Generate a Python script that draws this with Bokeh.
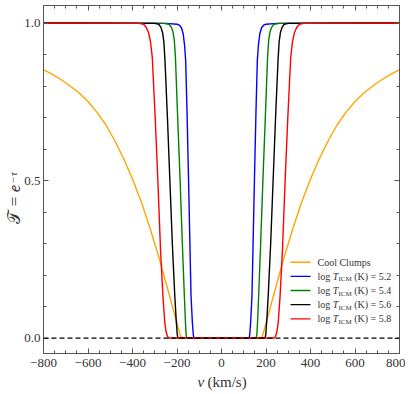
from bokeh.plotting import figure
from bokeh.models import (Range1d, LinearAxis, Label, FixedTicker, Title,
                          CustomJSTickFormatter, Span)
from bokeh.embed import file_html
from bokeh.resources import INLINE

# ---- data ----
v_cool = [-800, -760, -720, -680, -640, -600, -560, -520, -480, -440, -400, -360, -320, -280,
          -240, -220, -200, -192, -186, -181, -176,
          176, 181, 186, 192, 200, 220, 240, 280, 320, 360, 400, 440, 480, 520, 560, 600, 640,
          680, 720, 760, 800]
T_cool = [0.852, 0.837, 0.820, 0.800, 0.778, 0.751, 0.717, 0.677, 0.627, 0.570, 0.505, 0.431, 0.346,
          0.253, 0.151, 0.099, 0.047, 0.026, 0.011, 0.003, 0.0,
          0.0, 0.003, 0.011, 0.026, 0.047, 0.099, 0.151, 0.253, 0.346, 0.431, 0.505, 0.570, 0.627,
          0.677, 0.717, 0.751, 0.778, 0.800, 0.820, 0.837, 0.852]

v_52 = [-800, -250, -200, -189, -180, -172, -166, -161, -155, -148, -142, -137, -131, -127, -124,
        124, 127, 131, 137, 142, 148, 155, 161, 166, 172, 180, 189, 200, 250, 800]
T_52 = [1.0, 0.999, 0.996, 0.993, 0.985, 0.965, 0.93, 0.88, 0.72, 0.5, 0.3, 0.135, 0.05, 0.012, 0.0,
        0.0, 0.012, 0.05, 0.135, 0.3, 0.5, 0.72, 0.88, 0.93, 0.965, 0.985, 0.993, 0.996, 0.999, 1.0]

v_54 = [-800, -260, -236, -226, -218, -212, -207, -197, -186, -176, -167, -162, -159, -156,
        156, 159, 162, 167, 176, 186, 197, 207, 212, 218, 226, 236, 260, 800]
T_54 = [1.0, 0.999, 0.996, 0.987, 0.972, 0.945, 0.89, 0.7, 0.5, 0.3, 0.135, 0.05, 0.012, 0.0,
        0.0, 0.012, 0.05, 0.135, 0.3, 0.5, 0.7, 0.89, 0.945, 0.972, 0.987, 0.996, 0.999, 1.0]

v_56 = [-800, -300, -282, -272, -265, -259, -254, -243, -232, -221, -210, -203, -199, -196,
        196, 199, 203, 210, 221, 232, 243, 254, 259, 265, 272, 282, 300, 800]
T_56 = [1.0, 0.999, 0.996, 0.986, 0.97, 0.94, 0.88, 0.7, 0.5, 0.3, 0.135, 0.05, 0.012, 0.0,
        0.0, 0.012, 0.05, 0.135, 0.3, 0.5, 0.7, 0.88, 0.94, 0.97, 0.986, 0.996, 0.999, 1.0]

v_58 = [-800, -370, -350, -338, -328, -319, -311, -298, -286, -274, -263, -255, -249, -243, -237,
        237, 243, 249, 255, 263, 274, 286, 298, 311, 319, 328, 338, 350, 370, 800]
T_58 = [1.0, 0.999, 0.996, 0.986, 0.97, 0.94, 0.89, 0.7, 0.5, 0.28, 0.13, 0.05, 0.02, 0.006, 0.0,
        0.0, 0.006, 0.02, 0.05, 0.13, 0.28, 0.5, 0.7, 0.89, 0.94, 0.97, 0.986, 0.996, 0.999, 1.0]

x_major = [-800, -600, -400, -200, 0, 200, 400, 600, 800]
x_labels = ["\u2212800", "\u2212600", "\u2212400", "\u2212200", "0", "200", "400", "600", "800"]
x_minor = list(range(-800, 801, 50))
y_major = [0.0, 0.5, 1.0]
y_labels = ["0.0", "0.5", "1.0"]
y_minor = [0.0, 0.1, 0.2, 0.3, 0.4, 0.5, 0.6, 0.7, 0.8, 0.9, 1.0]

series = [
    ("Cool Clumps", v_cool, T_cool, "orange", None),
    ("5.2", v_52, T_52, "blue", "5.2"),
    ("5.4", v_54, T_54, "green", "5.4"),
    ("5.6", v_56, T_56, "black", "5.6"),
    ("5.8", v_58, T_58, "red", "5.8"),
]

FONT = "Liberation Serif"
AX = "#555555"
TXT = "#333333"

p = figure(frame_width=356, frame_height=348,
           x_range=Range1d(-800, 800), y_range=Range1d(-0.049, 1.0556),
           output_backend="svg", toolbar_location=None,
           min_border_left=43, min_border_right=6, min_border_top=5, min_border_bottom=33)
p.grid.visible = False
p.outline_line_color = AX
p.outline_line_width = 1
p.background_fill_color = "white"
p.border_fill_color = "white"


def style_axis(ax, show_labels):
    ax.major_tick_in = 5
    ax.major_tick_out = 0
    ax.minor_tick_in = 3
    ax.minor_tick_out = 0
    ax.axis_line_color = AX
    ax.major_tick_line_color = AX
    ax.minor_tick_line_color = AX
    ax.major_label_text_font = FONT
    ax.major_label_text_color = TXT
    if show_labels:
        ax.major_label_text_font_size = "13px"
    else:
        ax.major_label_text_font_size = "0px"
        ax.major_label_standoff = 0
        ax.formatter = CustomJSTickFormatter(code="return ''")


p.xaxis.ticker = FixedTicker(ticks=x_major, minor_ticks=x_minor)
p.yaxis.ticker = FixedTicker(ticks=y_major, minor_ticks=y_minor)
p.xaxis.major_label_overrides = {k: s for k, s in zip(x_major, x_labels)}
p.yaxis.major_label_overrides = {k: s for k, s in zip(y_major, y_labels)}
style_axis(p.xaxis[0], True)
style_axis(p.yaxis[0], True)
p.xaxis.major_label_standoff = 5
p.yaxis.major_label_standoff = 3

top = LinearAxis(ticker=FixedTicker(ticks=x_major, minor_ticks=x_minor))
style_axis(top, False)
p.add_layout(top, "above")
right = LinearAxis(ticker=FixedTicker(ticks=y_major, minor_ticks=y_minor))
style_axis(right, False)
p.add_layout(right, "right")

for name, vv, tt, col, _ in series:
    p.line(vv, tt, line_color=col, line_width=1.4)

p.add_layout(Span(location=0, dimension="width", line_color="black",
                  line_dash="5 3", line_width=1.2))


# helpers: page pixel -> data coordinates (frame: x 43..399, y: T=0 at 337.5, 315 px/unit)
def px2v(px):
    return (px - 43) / 0.2225 - 800


def py2T(py):
    return (337.5 - py) / 315


# legend (drawn by hand to allow the subscript)
row_y = [261.7, 275.8, 290.0, 304.1, 318.3]
for i, (name, vv, tt, col, val) in enumerate(series):
    yy = py2T(row_y[i])
    p.line([px2v(290), px2v(310)], [yy, yy], line_color=col, line_width=1.4)
    if val is None:
        p.add_layout(Label(x=px2v(317), y=yy, text=name, text_font=FONT, text_font_size="10px",
                           text_color=TXT, text_baseline="middle"))
    else:
        p.add_layout(Label(x=px2v(317), y=yy, text="log", text_font=FONT, text_font_size="10px",
                           text_color=TXT, text_baseline="middle"))
        p.add_layout(Label(x=px2v(332.3), y=yy, text="T", text_font=FONT, text_font_size="10px",
                           text_font_style="italic", text_color=TXT, text_baseline="middle"))
        p.add_layout(Label(x=px2v(338), y=yy - 3 / 315, text="ICM", text_font=FONT,
                           text_font_size="7px", text_color=TXT, text_baseline="middle"))
        p.add_layout(Label(x=px2v(353.7), y=yy, text="(K) = " + val, text_font=FONT,
                           text_font_size="10px", text_color=TXT, text_baseline="middle"))

# x axis label: italic v + (km/s), as two titles sharing one row
t_v = Title(text="v", align="left", offset=197 - 43, vertical_align="top", standoff=8,
            text_font=FONT, text_font_size="15px", text_font_style="italic",
            text_color=TXT)
p.add_layout(t_v, "below")
t_km = Title(text="(km/s)", align="left", offset=207 - 43, vertical_align="top", standoff=-44,
             text_font=FONT, text_font_size="15px", text_font_style="normal",
             text_color=TXT)
p.add_layout(t_km, "below")

# y axis label: T = e  with superscript -tau
t_y = Title(text="\U0001D4AF = \U0001D452", align="left", offset=353 - 223, vertical_align="bottom",
            standoff=-4, text_font=FONT, text_font_size="17px", text_font_style="normal",
            text_color=TXT)
p.add_layout(t_y, "left")
t_sup = Title(text="\u2212\u03c4", align="left", offset=353 - 183, vertical_align="bottom",
              standoff=-29, text_font=FONT, text_font_size="11px", text_font_style="italic",
              text_color=TXT)
p.add_layout(t_sup, "left")

open("out.html", "w").write(file_html(p, INLINE))
